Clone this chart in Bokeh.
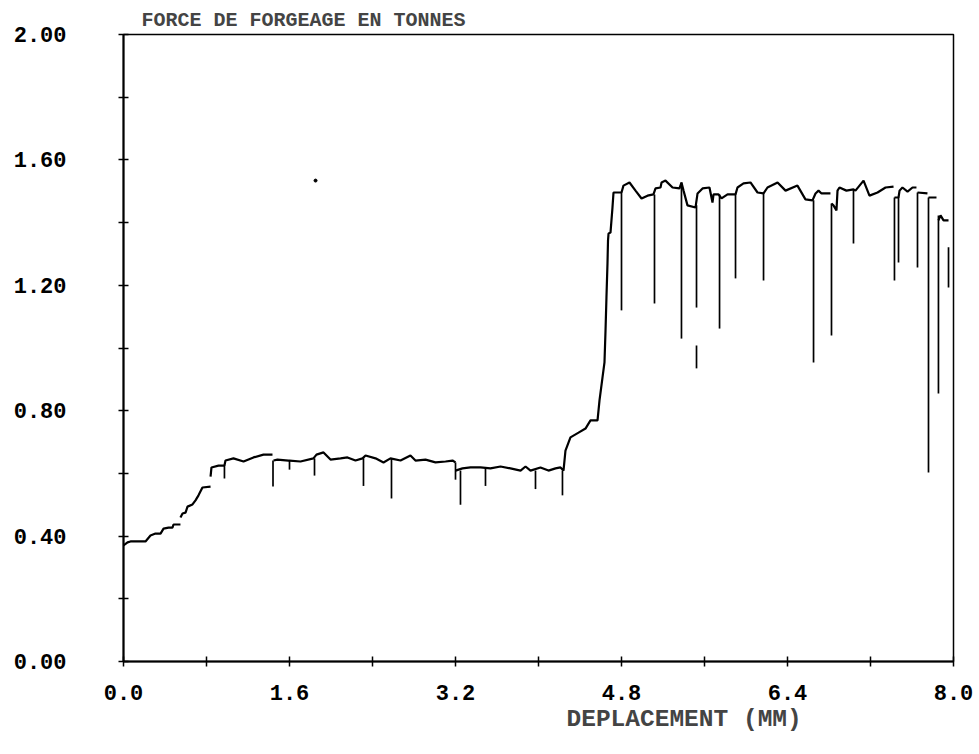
from bokeh.plotting import figure
from bokeh.models import Range1d, FixedTicker, Title
from bokeh.embed import file_html
from bokeh.resources import INLINE

nan = float("nan")

# ---- data ----
x_major = [0.0, 1.6, 3.2, 4.8, 6.4, 8.0]
x_minor = [0.8, 2.4, 4.0, 5.6, 7.2]
x_tick_labels = ["0.0", "1.6", "3.2", "4.8", "6.4", "8.0"]
y_major = [0.0, 0.4, 0.8, 1.2, 1.6, 2.0]
y_minor = [0.2, 0.6, 1.0, 1.4, 1.8]
y_tick_labels = ["0.00", "0.40", "0.80", "1.20", "1.60", "2.00"]

# main force curve, pieces separated by NaN (pen lifts)
disp = [0.000, 0.039, 0.067, 0.212, 0.260, 0.308, 0.357, 0.386, 0.434, 0.472, 0.482, 0.549, nan,
        0.549, 0.569, 0.598, 0.617, 0.665, 0.694, 0.723, 0.761, 0.839, nan,
        0.839, 0.848, 0.916, 0.973, 0.983, 1.060, 1.157, 1.253, 1.349, 1.436, nan,
        1.446, 1.484, 1.590, 1.600, 1.706, 1.831, 1.860, 1.928, 1.995, 2.092, 2.159,
        2.236, 2.304, 2.333, 2.429, 2.506, 2.573, 2.670, 2.766, 2.814, 2.911, 3.007,
        3.104, 3.171, 3.200, nan,
        3.200, 3.267, 3.345, 3.441, 3.537, 3.634, 3.730, 3.827, 3.875, 3.923, 4.019,
        4.096, 4.164, 4.212, 4.241, 4.260, 4.308, 4.386, 4.453, 4.501, 4.569, 4.588,
        4.617, 4.636, 4.646, 4.655, 4.665, 4.670, 4.675, 4.694, 4.713, 4.723, 4.800,
        4.819, 4.877, 4.935, 4.993, 5.051, 5.108, 5.128, 5.176, 5.186, 5.224, 5.292,
        5.359, 5.378, 5.398, 5.436, 5.513, 5.533, 5.581, 5.648, 5.677, 5.687, 5.735,
        5.764, 5.822, 5.899, 5.918, 5.976, 6.043, 6.111, 6.169, 6.207, 6.304, 6.381,
        6.496, 6.573, 6.641, 6.670, 6.699, 6.728, 6.814, nan,
        6.824, 6.843, 6.872, 6.882, 6.901, 6.968, 7.036, 7.055, 7.133, 7.190, 7.268,
        7.345, 7.422, nan,
        7.431, 7.470, 7.480, 7.508, 7.557, 7.605, 7.643, nan,
        7.653, 7.749, nan,
        7.759, 7.836, nan,
        7.855, 7.875, 7.904, 7.952]
force = [0.370, 0.380, 0.383, 0.383, 0.402, 0.408, 0.408, 0.424, 0.427, 0.427, 0.437, 0.437, nan,
         0.459, 0.472, 0.475, 0.494, 0.501, 0.514, 0.530, 0.555, 0.558, nan,
         0.590, 0.619, 0.625, 0.625, 0.641, 0.648, 0.638, 0.651, 0.660, 0.660, nan,
         0.641, 0.644, 0.641, 0.641, 0.638, 0.648, 0.660, 0.667, 0.644, 0.648, 0.651,
         0.641, 0.648, 0.657, 0.648, 0.635, 0.648, 0.641, 0.657, 0.641, 0.644, 0.635,
         0.638, 0.641, 0.635, nan,
         0.609, 0.616, 0.619, 0.619, 0.616, 0.622, 0.616, 0.609, 0.622, 0.609, 0.619,
         0.609, 0.616, 0.619, 0.609, 0.673, 0.715, 0.730, 0.743, 0.769, 0.769, 0.833,
         0.906, 0.954, 1.056, 1.161, 1.270, 1.343, 1.365, 1.368, 1.448, 1.496, 1.496,
         1.518, 1.528, 1.502, 1.477, 1.486, 1.490, 1.509, 1.512, 1.528, 1.534, 1.512,
         1.509, 1.528, 1.502, 1.455, 1.448, 1.493, 1.509, 1.512, 1.464, 1.490, 1.490,
         1.477, 1.490, 1.490, 1.512, 1.525, 1.528, 1.496, 1.493, 1.512, 1.528, 1.502,
         1.518, 1.474, 1.471, 1.493, 1.502, 1.493, 1.493, nan,
         1.461, 1.455, 1.439, 1.502, 1.512, 1.502, 1.506, 1.502, 1.534, 1.486, 1.496,
         1.512, 1.515, nan,
         1.480, 1.480, 1.502, 1.512, 1.499, 1.512, 1.512, nan,
         1.496, 1.493, nan,
         1.480, 1.480, nan,
         1.407, 1.423, 1.407, 1.407]

# downward drops (x, level before the drop, lowest value reached)
drop_x = [0.973, 1.441, 1.600, 1.841, 2.313, 2.583, 3.200, 3.248, 3.489, 3.971, 4.231,
          4.800, 5.118, 5.378, 5.523, 5.745, 5.899, 6.169, 6.651, 6.824, 7.036,
          7.431, 7.470, 7.653, 7.759, 7.855]
drop_top = [0.625, 0.641, 0.641, 0.648, 0.648, 0.648, 0.635, 0.609, 0.619, 0.609, 0.609,
            1.496, 1.490, 1.528, 1.455, 1.490, 1.490, 1.493, 1.471, 1.461, 1.506,
            1.480, 1.480, 1.496, 1.480, 1.423]
drop_bottom = [0.584, 0.558, 0.612, 0.593, 0.560, 0.520, 0.580, 0.500, 0.560, 0.550, 0.530,
               1.120, 1.142, 1.030, 1.129, 1.062, 1.222, 1.215, 0.954, 1.040, 1.333,
               1.215, 1.273, 1.257, 0.603, 0.855]

# isolated pen strokes
frag_x = [5.523, 7.952]
frag_top = [1.008, 1.321]
frag_bottom = [0.935, 1.193]

# stray ink dot
dot_x = [1.851]
dot_y = [1.534]

FONT = "Liberation Mono"

p = figure(width=975, height=750, output_backend="svg", toolbar_location=None,
           x_range=Range1d(0, 8), y_range=Range1d(0, 2),
           min_border_left=123, min_border_right=22, min_border_top=34, min_border_bottom=89,
           background_fill_color="white", border_fill_color="white")
p.grid.visible = False
p.outline_line_color = "black"
p.outline_line_width = 1.5

p.add_layout(Title(text="FORCE DE FORGEAGE EN TONNES", align="left", offset=18,
                   text_font=FONT, text_font_size="20px", text_font_style="bold",
                   standoff=5), "above")
p.add_layout(Title(text="DEPLACEMENT (MM)", align="left", offset=443,
                   text_font=FONT, text_font_size="24.5px", text_font_style="bold",
                   standoff=3), "below")

p.xaxis.ticker = FixedTicker(ticks=x_major, minor_ticks=x_minor)
p.yaxis.ticker = FixedTicker(ticks=y_major, minor_ticks=y_minor)
p.xaxis.major_label_overrides = {v: s for v, s in zip(x_major, x_tick_labels)}
p.yaxis.major_label_overrides = {v: s for v, s in zip(y_major, y_tick_labels)}
for ax in (p.xaxis, p.yaxis):
    ax.axis_line_width = 2
    ax.axis_line_color = "black"
    ax.major_tick_in = 5
    ax.major_tick_out = 5
    ax.minor_tick_in = 5
    ax.minor_tick_out = 5
    ax.major_tick_line_width = 1.5
    ax.minor_tick_line_width = 1.5
    ax.major_label_text_font = FONT
    ax.major_label_text_font_size = "22px"
    ax.major_label_text_font_style = "bold"
    ax.major_label_text_color = "black"
p.yaxis.major_label_standoff = 52
p.xaxis.major_label_standoff = 18

p.line(disp, force, line_color="black", line_width=2.2)
p.segment(x0=drop_x, y0=drop_top, x1=drop_x, y1=drop_bottom, line_color="black", line_width=1.7)
p.segment(x0=frag_x, y0=frag_top, x1=frag_x, y1=frag_bottom, line_color="black", line_width=1.7)
p.scatter(dot_x, dot_y, size=3, color="black")

open("out.html", "w").write(file_html(p, INLINE))
